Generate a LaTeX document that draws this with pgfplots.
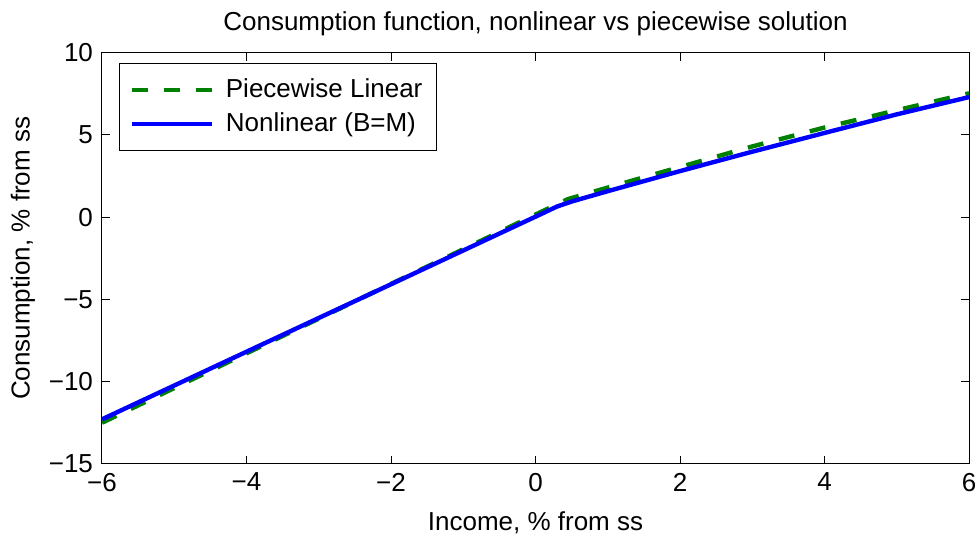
\documentclass[border=0pt]{standalone}
\usepackage{fontspec}
\setmainfont{Liberation Sans}
\usepackage{pgfplots}
\pgfplotsset{compat=1.18}
\definecolor{mgreen}{rgb}{0,0.5,0}
\definecolor{mblue}{rgb}{0,0,1}
\begin{document}
\fontsize{13}{15.6}\selectfont
\begin{tikzpicture}
\begin{axis}[
  scale only axis,
  width=433.5pt, height=205.6pt,
  xmin=-6, xmax=6, ymin=-15, ymax=10,
  xtick={-6,-4,-2,0,2,4,6},
  xticklabels={−6,−4,−2,0,2,4,6},
  ytick={-15,-10,-5,0,5,10},
  yticklabels={−15,−10,−5,0,5,10},
  tick align=inside, tick pos=both,
  major tick length=4pt,
  tick style={black, line width=0.5pt},
  axis line style={line width=0.5pt},
  title={Consumption function, nonlinear vs piecewise solution},
  title style={yshift=-2pt},
  xlabel={Income, \% from ss},
  xlabel style={yshift=-1.5pt},
  ylabel={Consumption, \% from ss},
  ylabel style={yshift=-2pt},
  legend cell align=left,
  legend style={at={(axis description cs:0.0196,0.974)}, anchor=north west,
    draw=black, line width=0.5pt, inner xsep=5pt, inner ysep=5.5pt, row sep=1.5pt,
    column sep=4pt},
  legend image code/.code={\draw[#1] plot coordinates {(0pt,0pt) (20pt,0pt) (40pt,0pt)};},
]
\addplot[mgreen, line width=2.2pt, dash pattern=on 8pt off 8pt] coordinates {
  (-6,-12.5) (-4,-8.28) (-2,-4.06) (0,0.16) (0.45,1.1) (1,1.8) (2,3.05) (3,4.3) (4,5.45) (5,6.5) (6,7.53)
};
\addlegendentry{Piecewise Linear}
\addplot[mblue, line width=2.2pt] coordinates {
  (-6,-12.29) (-4,-8.18) (-2,-4.08) (0,0.03) (0.3,0.65) (0.5,0.95) (1,1.58) (2,2.8) (3,3.98) (4,5.12) (5,6.25) (6,7.3)
};
\addlegendentry{Nonlinear (B=M)}
\coordinate (bl) at (rel axis cs:0,0);
\coordinate (tr) at (rel axis cs:1,1);
\end{axis}
\pgfresetboundingbox
\path ([xshift=-51pt,yshift=-36.5pt]bl) rectangle ([xshift=5.5pt,yshift=26.35pt]tr);
\end{tikzpicture}
\end{document}
